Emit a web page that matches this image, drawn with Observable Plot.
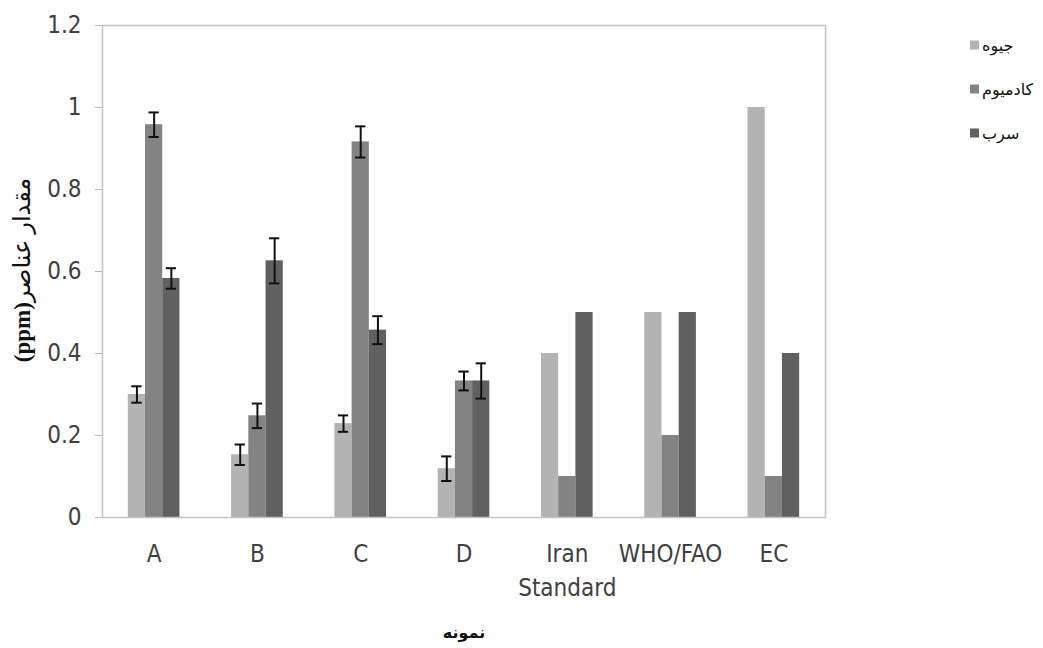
<!DOCTYPE html>
<html><head><meta charset="utf-8">
<script src="https://cdn.jsdelivr.net/npm/d3@7"></script>
<script src="https://cdn.jsdelivr.net/npm/@observablehq/plot@0.6"></script>
<style>body{margin:0;background:#fff}</style>
</head><body><div id="chart"></div>
<script>
// ---- data ----
const categories = ["A", "B", "C", "D", "Iran\nStandard", "WHO/FAO", "EC"];
const seriesNames = ["جیوه", "کادمیوم", "سرب"];
const mercury   = [0.300, 0.153, 0.229, 0.119, 0.4, 0.5, 1.0];
const cadmium   = [0.958, 0.248, 0.916, 0.333, 0.1, 0.2, 0.1];
const lead      = [0.583, 0.626, 0.457, 0.333, 0.5, 0.5, 0.4];
const mercuryErr = [0.020, 0.025, 0.020, 0.030, null, null, null];
const cadmiumErr = [0.030, 0.030, 0.038, 0.023, null, null, null];
const leadErr    = [0.025, 0.055, 0.034, 0.043, null, null, null];
const yTicks = [0, 0.2, 0.4, 0.6, 0.8, 1, 1.2];
const colors = ["#b3b3b3", "#838383", "#606060"];
const yTitleBold = "(ppm)";
const yTitleText = "مقدار عناصر";
const xTitle = "نمونه";

// ---- build table ----
const seriesValues = [mercury, cadmium, lead];
const seriesErrors = [mercuryErr, cadmiumErr, leadErr];
const rows = [];
seriesValues.forEach((vals, j) => vals.forEach((v, i) =>
  rows.push({i, j, series: seriesNames[j], value: v, err: seriesErrors[j][i]})));
const groupStart = 0.25, barW = 1 / 6;
const x1 = d => d.i + groupStart + d.j * barW;
const xc = d => x1(d) + barW / 2;
const errRows = rows.filter(d => d.err != null);
const capHalf = 0.05;

const tickFont = "'Liberation Sans Narrow', 'DejaVu Sans Condensed', 'Open Sans', sans-serif";

const chart = Plot.plot({
  width: 1043,
  height: 648,
  marginLeft: 102,
  marginRight: 218,
  marginTop: 25,
  marginBottom: 131,
  x: {domain: [0, categories.length], axis: null},
  y: {domain: [0, 1.2], axis: null},
  color: {domain: seriesNames, range: colors},
  marks: [
    Plot.rectY(rows, {x1: x1, x2: d => x1(d) + barW, y: "value", fill: "series"}),
    Plot.ruleX(errRows, {x: xc, y1: d => d.value - d.err, y2: d => d.value + d.err, stroke: "#111", strokeWidth: 2}),
    Plot.ruleY(errRows, {y: d => d.value + d.err, x1: d => xc(d) - capHalf, x2: d => xc(d) + capHalf, stroke: "#111", strokeWidth: 2}),
    Plot.ruleY(errRows, {y: d => d.value - d.err, x1: d => xc(d) - capHalf, x2: d => xc(d) + capHalf, stroke: "#111", strokeWidth: 2}),
    Plot.frame({stroke: "#c4c4c4", strokeWidth: 1.5}),
    Plot.axisY({ticks: yTicks, tickFormat: d => String(+d.toFixed(1)), tickSize: 7, tickPadding: 14, label: null,
      stroke: "#b8b8b8", fill: "#404040", fontSize: 24, fontFamily: tickFont}),
    Plot.axisX({ticks: categories.map((c, i) => i + 0.5), tickFormat: v => categories[Math.floor(v)], label: null,
      tickSize: 0, tickPadding: 21, lineHeight: 1.39, fill: "#404040", fontSize: 24, fontFamily: tickFont}),
    Plot.text([xTitle], {frameAnchor: "bottom", dy: 120, fontSize: 16, fontWeight: "bold",
      fontFamily: "'Liberation Serif', 'DejaVu Sans', serif", fill: "#111"})
  ]
});

document.getElementById("chart").append(chart);
const svg = d3.select(chart);

// y-axis title (mixed weight)
const yt = svg.append("text")
  .attr("transform", "translate(22,270) rotate(-90)")
  .attr("text-anchor", "middle")
  .attr("dominant-baseline", "central")
  .attr("font-family", "'Liberation Serif', 'DejaVu Sans', serif")
  .attr("fill", "#111");
yt.append("tspan").attr("font-weight", "bold").attr("font-size", 23).text(yTitleBold);
yt.append("tspan").attr("font-size", 24).text(yTitleText);

// legend
const lg = svg.append("g").attr("font-family", "'DejaVu Sans', sans-serif").attr("font-size", 16);
seriesNames.forEach((name, k) => {
  const cy = 45 + k * 44;
  lg.append("rect").attr("x", 970).attr("y", cy - 4.5).attr("width", 9).attr("height", 9).attr("fill", colors[k]);
  const t = lg.append("text").attr("y", cy).attr("dominant-baseline", "central")
    .attr("text-anchor", "end").attr("fill", "#111").text(name);
  const w = t.node().getComputedTextLength();
  t.attr("x", 982 + w);
});
</script>
</body></html>
